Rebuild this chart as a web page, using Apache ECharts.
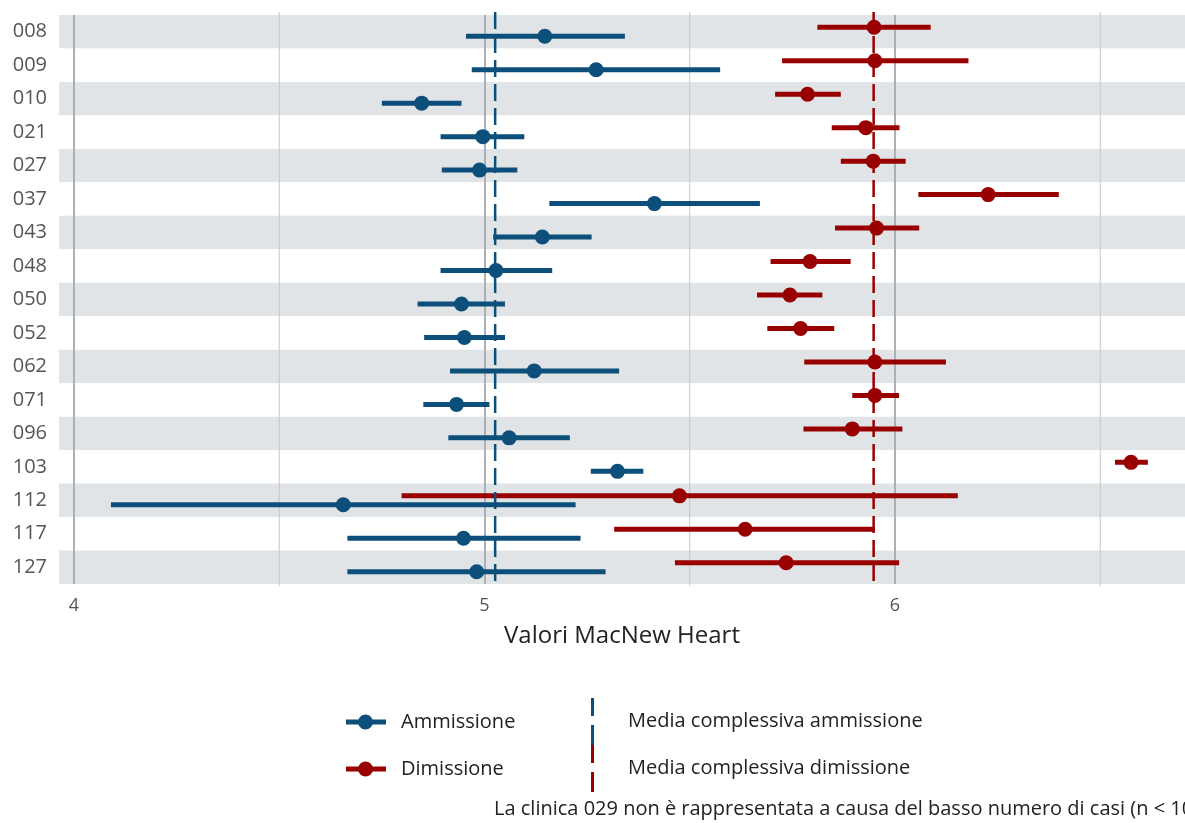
<!DOCTYPE html>
<html>
<head>
<meta charset="utf-8">
<style>
  html, body { margin: 0; padding: 0; background: #ffffff; }
  #chart { width: 1185px; height: 823px; }
</style>
<script src="https://cdn.jsdelivr.net/npm/echarts@6/dist/echarts.min.js"></script>
</head>
<body>
<div id="chart"></div>
<script>
// ---- Data ----
const clinics = ['008','009','010','021','027','037','043','048','050','052','062','071','096','103','112','117','127'];

const admLow  = [4.955, 4.969, 4.750, 4.893, 4.896, 5.158, 5.021, 4.893, 4.837, 4.853, 4.916, 4.851, 4.912, 5.259, 4.090, 4.666, 4.666];
const admMean = [5.147, 5.272, 4.847, 4.996, 4.988, 5.414, 5.141, 5.028, 4.944, 4.951, 5.121, 4.932, 5.060, 5.324, 4.656, 4.949, 4.981];
const admHigh = [5.342, 5.574, 4.944, 5.097, 5.080, 5.671, 5.261, 5.165, 5.050, 5.050, 5.328, 5.012, 5.208, 5.387, 5.222, 5.234, 5.295];

const disLow  = [5.811, 5.725, 5.708, 5.846, 5.868, 6.057, 5.854, 5.697, 5.664, 5.689, 5.779, 5.896, 5.777, 6.536, 4.798, 5.316, 5.464];
const disMean = [5.949, 5.951, 5.787, 5.929, 5.947, 6.227, 5.955, 5.793, 5.744, 5.770, 5.951, 5.951, 5.896, 6.575, 5.475, 5.635, 5.735];
const disHigh = [6.087, 6.179, 5.868, 6.011, 6.026, 6.399, 6.059, 5.892, 5.823, 5.852, 6.124, 6.010, 6.018, 6.616, 6.153, 5.951, 6.010];

const overallAdm = 5.026;
const overallDis = 5.948;

const xTickLabels = [4, 5, 6];
const xMinorGrid = [4.5, 5.5, 6.5];

const seriesNames = ['Ammissione', 'Dimissione', 'Media complessiva ammissione', 'Media complessiva dimissione'];
const footnote = 'La clinica 029 non è rappresentata a causa del basso numero di casi (n < 10)';
const xTitle = 'Valori MacNew Heart';

// ---- Styling ----
const BLUE = '#0c4f7b';
const RED = '#990000';
const FONT = '"Open Sans", "Noto Sans", sans-serif';

function rows(lo, mid, hi) {
  return clinics.map((c, i) => [i, lo[i], mid[i], hi[i]]);
}

function errRender(color, frac) {
  return function (params, api) {
    const cat = api.value(0);
    const lo = api.coord([api.value(1), cat]);
    const mid = api.coord([api.value(2), cat]);
    const hi = api.coord([api.value(3), cat]);
    const band = api.size([0, 1])[1];
    const dy = band * frac;
    return {
      type: 'group',
      children: [
        { type: 'line', shape: { x1: lo[0], y1: lo[1] + dy, x2: hi[0], y2: hi[1] + dy },
          style: { stroke: color, lineWidth: 5, lineCap: 'butt' } },
        { type: 'circle', shape: { cx: mid[0], cy: mid[1] + dy, r: 7.5 },
          style: { fill: color } }
      ]
    };
  };
}

function meanRender(color) {
  return function (params, api) {
    const x = api.coord([api.value(0), 0])[0];
    const cs = params.coordSys;
    return {
      type: 'line',
      shape: { x1: x, y1: cs.y - 3, x2: x, y2: cs.y + cs.height + 2 },
      style: { stroke: color, lineWidth: 2.5, lineDash: [17, 7] }
    };
  };
}

function minorRender(params, api) {
  const x = api.coord([api.value(0), 0])[0];
  const cs = params.coordSys;
  return {
    type: 'line',
    shape: { x1: x, y1: cs.y - 3, x2: x, y2: cs.y + cs.height + 2 },
    style: { stroke: '#c4c6c8', lineWidth: 1 }
  };
}

const chart = echarts.init(document.getElementById('chart'), null, { renderer: 'canvas' });

const lineDotIcon = 'path://M0,5h13v5h-13z M26,5h14v5h-14z M12,7.5a7.5,7.5 0 1,1 15,0a7.5,7.5 0 1,1 -15,0z';
const dashIcon = 'path://M0,0h3v18h-3z M0,27h3v20h-3z';

chart.setOption({
  animation: false,
  backgroundColor: '#ffffff',
  textStyle: { fontFamily: FONT },
  grid: { left: 59, right: 0, top: 15, height: 569, containLabel: false },
  title: {
    text: footnote,
    left: 494,
    top: 799,
    padding: 0,
    textStyle: { fontFamily: FONT, fontSize: 20, fontWeight: 'normal', color: '#222222' }
  },
  legend: [
    {
      data: [seriesNames[0], seriesNames[1]],
      orient: 'vertical',
      left: 346,
      top: 712,
      padding: 0,
      itemWidth: 40,
      itemHeight: 15,
      itemGap: 27,
      icon: lineDotIcon,
      selectedMode: false,
      textStyle: { fontFamily: FONT, fontSize: 20, color: '#222222', padding: [0, 0, 0, 10] }
    },
    {
      data: [seriesNames[2], seriesNames[3]],
      orient: 'vertical',
      left: 591,
      top: 698,
      padding: 0,
      itemWidth: 3,
      itemHeight: 47,
      itemGap: 0,
      icon: dashIcon,
      selectedMode: false,
      textStyle: { fontFamily: FONT, fontSize: 20, color: '#222222', padding: [0, 0, 0, 29] }
    }
  ],
  xAxis: {
    type: 'value',
    min: 3.9635,
    max: 6.7065,
    axisLine: { show: false },
    axisTick: { show: false, customValues: xTickLabels },
    axisLabel: { customValues: xTickLabels, color: '#555555', fontSize: 18, margin: 13, fontFamily: FONT },
    splitLine: { show: true, lineStyle: { color: '#adb0b3', width: 2 } },
    name: xTitle,
    nameLocation: 'middle',
    nameGap: 40,
    nameTextStyle: { color: '#222222', fontSize: 24, fontFamily: FONT }
  },
  yAxis: {
    type: 'category',
    data: clinics,
    inverse: true,
    axisLine: { show: false },
    axisTick: { show: false },
    axisLabel: { color: '#555555', fontSize: 20, margin: 12, fontFamily: FONT },
    splitLine: { show: false },
    splitArea: { show: true, areaStyle: { color: ['#e1e4e7', '#ffffff'] } }
  },
  series: [
    {
      name: 'minorGrid',
      type: 'custom',
      renderItem: minorRender,
      data: xMinorGrid.map(v => [v]),
      encode: { x: 0 },
      silent: true,
      z: 1
    },
    {
      name: seriesNames[0],
      type: 'custom',
      renderItem: errRender(BLUE, 0.134),
      data: rows(admLow, admMean, admHigh),
      encode: { x: [1, 2, 3], y: 0 },
      itemStyle: { color: BLUE },
      z: 3
    },
    {
      name: seriesNames[1],
      type: 'custom',
      renderItem: errRender(RED, -0.134),
      data: rows(disLow, disMean, disHigh),
      encode: { x: [1, 2, 3], y: 0 },
      itemStyle: { color: RED },
      z: 3
    },
    {
      name: seriesNames[2],
      type: 'custom',
      renderItem: meanRender(BLUE),
      data: [[overallAdm]],
      encode: { x: 0 },
      itemStyle: { color: BLUE },
      z: 4
    },
    {
      name: seriesNames[3],
      type: 'custom',
      renderItem: meanRender(RED),
      data: [[overallDis]],
      encode: { x: 0 },
      itemStyle: { color: RED },
      z: 4
    }
  ]
});
</script>
</body>
</html>
